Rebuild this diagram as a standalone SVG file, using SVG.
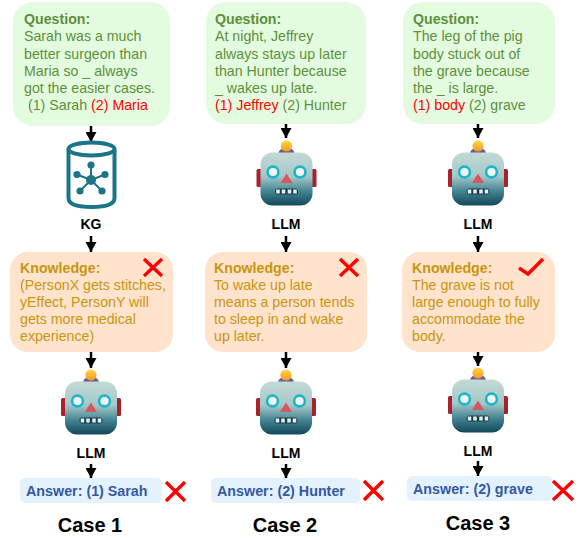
<svg xmlns="http://www.w3.org/2000/svg" width="582" height="538" viewBox="0 0 582 538">
<style>
text{font-family:"Liberation Sans",Arial,sans-serif}
.q{fill:#e3fce0}.k{fill:#ffe3cc}.a{fill:#e3f2fd}
.qt{font-size:14.2px;fill:#5f8f3c}.kt{font-size:14.2px;fill:#c8960f}
.at{font-size:14.3px;font-weight:bold;fill:#35599f}
.b{font-weight:bold}.r{fill:#f00}
.lab{font-size:14px;font-weight:bold;fill:#000;text-anchor:middle}
.case{font-size:20px;font-weight:bold;fill:#000;text-anchor:middle}
.con{stroke:#000;stroke-width:2.5;fill:none;marker-end:url(#ah)}
.x{stroke:#f00;stroke-width:3.4;fill:none}
</style>
<defs>
<marker id="ah" markerUnits="userSpaceOnUse" markerWidth="12" markerHeight="11" refX="10" refY="5.500" orient="auto"><path d="M0 0L10 5.500L0 11z" fill="#000"/></marker>
<linearGradient id="hg" x1="0" y1="0" x2="0" y2="1"><stop offset="0" stop-color="#c4dad6"/><stop offset=".45" stop-color="#a3c8c9"/><stop offset=".75" stop-color="#3f7f8e"/><stop offset="1" stop-color="#12485a"/></linearGradient>
<linearGradient id="ball" x1="0" y1="0" x2="0" y2="1"><stop offset="0" stop-color="#ffd54a"/><stop offset="1" stop-color="#f59a1c"/></linearGradient>
<g id="robot">
<rect x="-30" y="-10" width="6" height="18" rx="1.5" fill="#a8222c"/>
<rect x="24" y="-10" width="6" height="18" rx="1.5" fill="#a8222c"/>
<path d="M-8 -26Q-7 -31 0 -31Q7 -31 8 -26L6 -23H-6z" fill="#6a5a96"/>
<circle cx="0" cy="-33" r="5.6" fill="url(#ball)"/>
<rect x="-26" y="-26.500" width="52" height="53" rx="12" fill="url(#hg)"/>
<circle cx="-13.500" cy="-7" r="5.400" fill="#eef6f6" stroke="#1fb5c9" stroke-width="2.600"/>
<circle cx="13.500" cy="-7" r="5.400" fill="#eef6f6" stroke="#1fb5c9" stroke-width="2.600"/>
<path d="M0 -5.500L6 4H-6z" fill="#d9555c"/>
<rect x="-11.500" y="9.500" width="23" height="6" rx="2.500" fill="#16424f"/>
<path d="M-8.500 10.500v4M-3 10.500v4M3 10.500v4M8.500 10.500v4" stroke="#e6eeee" stroke-width="3.500"/>
</g>
</defs>
<g id="connectors">
<line class="con" x1="91" y1="126" x2="91" y2="142"/>
<line class="con" x1="91" y1="236" x2="91" y2="252"/>
<line class="con" x1="91" y1="352" x2="91" y2="368"/>
<line class="con" x1="91" y1="464" x2="91" y2="478"/>
<line class="con" x1="286" y1="124" x2="286" y2="138"/>
<line class="con" x1="286" y1="236" x2="286" y2="252"/>
<line class="con" x1="286" y1="352" x2="286" y2="368"/>
<line class="con" x1="286" y1="464" x2="286" y2="478"/>
<line class="con" x1="478" y1="124" x2="478" y2="138"/>
<line class="con" x1="478" y1="236" x2="478" y2="252"/>
<line class="con" x1="478" y1="352" x2="478" y2="366"/>
<line class="con" x1="478" y1="461" x2="478" y2="476"/>
</g>
<g id="q1"><rect class="q" x="13" y="2" width="157" height="124" rx="20"/>
<text class="qt" x="24" y="24"><tspan class="b">Question:</tspan><tspan x="24" dy="17">Sarah was a much</tspan><tspan x="24" dy="17.500">better surgeon than</tspan><tspan x="24" dy="17">Maria so _ always</tspan><tspan x="24" dy="17">got the easier cases.</tspan><tspan x="28" dy="17">(1) Sarah </tspan><tspan class="r">(2) Maria</tspan></text></g>
<g id="kg" fill="none" stroke="#1b7488">
<ellipse cx="91.500" cy="149" rx="23" ry="6.500" stroke-width="4"/>
<path d="M68.500 149V198Q68.500 207 91.500 207Q114.500 207 114.500 198V149" stroke-width="4"/>
<path d="M91 180V165M91 180L77 174.500M91 180L105 174.500M91 180L80 191M91 180L102 191" stroke-width="2"/>
<g fill="#1b7488" stroke="none"><circle cx="91" cy="180" r="5"/><circle cx="91" cy="165" r="3.600"/><circle cx="77" cy="174.500" r="3.600"/><circle cx="105" cy="174.500" r="3.600"/><circle cx="80" cy="191" r="3.600"/><circle cx="102" cy="191" r="3.600"/></g>
</g>
<text id="kg-label" class="lab" x="91" y="229">KG</text>
<g id="k1"><rect class="k" x="10" y="252" width="163" height="100" rx="18"/>
<text class="kt" x="20" y="273"><tspan class="b">Knowledge:</tspan><tspan x="20" dy="17">(PersonX gets stitches,</tspan><tspan x="20" dy="17">yEffect, PersonY will</tspan><tspan x="20" dy="17">gets more medical</tspan><tspan x="20" dy="17">experience)</tspan></text>
<path class="x" d="M144 259L162 276M162 259L144 276"/></g>
<g id="llm1"><use href="#robot" x="91" y="408"/><text class="lab" x="91" y="458">LLM</text></g>
<g id="a1"><rect class="a" x="20" y="478" width="142" height="25" rx="5"/><text class="at" x="26" y="496">Answer: (1) Sarah</text>
<path class="x" d="M166 482L185 501M185 482L166 501"/></g>
<text id="case1" class="case" x="90" y="532">Case 1</text>
<g id="q2"><rect class="q" x="206" y="2" width="160" height="122" rx="20"/>
<text class="qt" x="215" y="24"><tspan class="b">Question:</tspan><tspan x="215" dy="17">At night, Jeffrey</tspan><tspan x="215" dy="17.500">always stays up later</tspan><tspan x="215" dy="17">than Hunter because</tspan><tspan x="215" dy="17">_ wakes up late.</tspan><tspan x="215" dy="17.500" class="r">(1) Jeffrey</tspan><tspan> (2) Hunter</tspan></text></g>
<g id="llm2"><use href="#robot" x="286.500" y="179"/><text class="lab" x="286" y="229">LLM</text></g>
<g id="k2"><rect class="k" x="205" y="252" width="162" height="100" rx="18"/>
<text class="kt" x="214" y="273"><tspan class="b">Knowledge:</tspan><tspan x="214" dy="17">To wake up late</tspan><tspan x="214" dy="17">means a person tends</tspan><tspan x="214" dy="17">to sleep in and wake</tspan><tspan x="214" dy="17">up later.</tspan></text>
<path class="x" d="M340 259L358 276M358 259L340 276"/></g>
<g id="llm2b"><use href="#robot" x="286" y="408"/><text class="lab" x="286" y="458">LLM</text></g>
<g id="a2"><rect class="a" x="211" y="478" width="149" height="25" rx="5"/><text class="at" x="217" y="496">Answer: (2) Hunter</text>
<path class="x" d="M364 481L383 500M383 481L364 500"/></g>
<text id="case2" class="case" x="285" y="532">Case 2</text>
<g id="q3"><rect class="q" x="403" y="2" width="152" height="122" rx="20"/>
<text class="qt" x="413" y="24"><tspan class="b">Question:</tspan><tspan x="413" dy="17">The leg of the pig</tspan><tspan x="413" dy="17.500">body stuck out of</tspan><tspan x="413" dy="17">the grave because</tspan><tspan x="413" dy="17">the _ is large.</tspan><tspan x="413" dy="17.500" class="r">(1) body</tspan><tspan> (2) grave</tspan></text></g>
<g id="llm3"><use href="#robot" x="478" y="179"/><text class="lab" x="478" y="229">LLM</text></g>
<g id="k3"><rect class="k" x="402" y="252" width="153" height="100" rx="18"/>
<text class="kt" x="412" y="273"><tspan class="b">Knowledge:</tspan><tspan x="412" dy="17">The grave is not</tspan><tspan x="412" dy="17">large enough to fully</tspan><tspan x="412" dy="17">accommodate the</tspan><tspan x="412" dy="17">body.</tspan></text>
<path class="x" d="M519 268L528 274L543 259"/></g>
<g id="llm3b"><use href="#robot" x="478" y="406"/><text class="lab" x="478" y="456">LLM</text></g>
<g id="a3"><rect class="a" x="407" y="476" width="146" height="25" rx="5"/><text class="at" x="413" y="494">Answer: (2) grave</text>
<path class="x" d="M553 481L573 500M573 481L553 500"/></g>
<text id="case3" class="case" x="478" y="530">Case 3</text>
</svg>
